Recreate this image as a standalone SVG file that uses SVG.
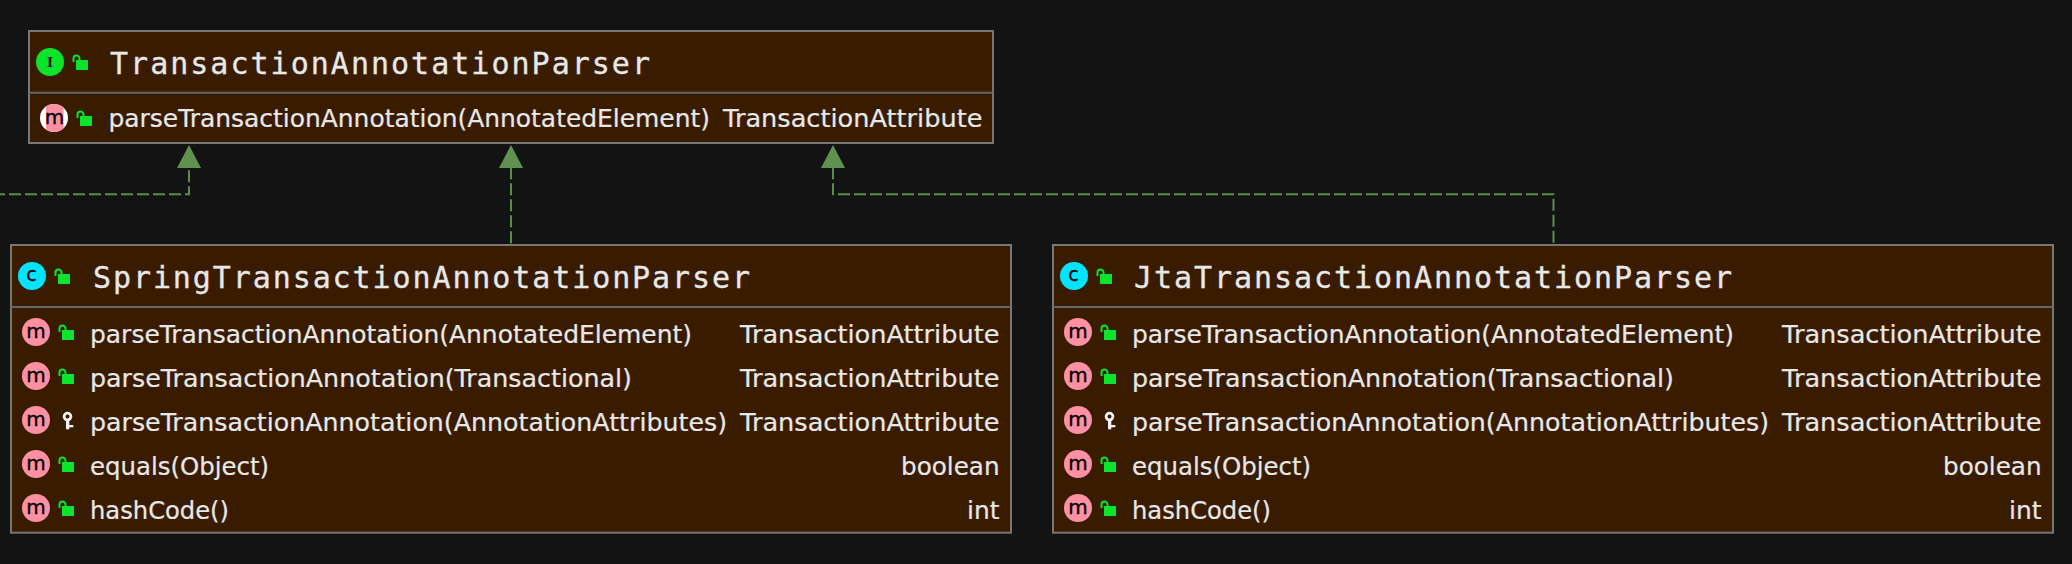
<svg xmlns="http://www.w3.org/2000/svg" width="2072" height="564" viewBox="0 0 2072 564">
<style>
.box{fill:#391c00;stroke:#777;stroke-width:2}
.div{stroke:#666;stroke-width:2;fill:none}
.title{font-family:"DejaVu Sans Mono",monospace;font-size:30px;fill:#e8e8e8;stroke:#e8e8e8;stroke-width:.3}
.mem{font-family:"DejaVu Sans","Liberation Sans",sans-serif;font-size:24px;fill:#e8e8e8;stroke:#e8e8e8;stroke-width:.2}
.link{fill:none;stroke:#5a8f4a;stroke-width:2;stroke-dasharray:12 4}
.head{fill:#5f9150}
.glyph{font-family:"DejaVu Sans","Liberation Sans",sans-serif;font-size:19px;fill:#000;stroke:#000;stroke-width:.3;text-anchor:middle}
</style>
<defs>
<g id="lock"><path d="M23.500 0V-3.500a3 3 0 0 1 6 0V-2" fill="none" stroke="#0be42a" stroke-width="2"/><rect x="26" y="-2" width="12" height="10" fill="#0be42a"/></g>
<g id="key"><circle cx="31.500" cy="-3.400" r="3.400" fill="none" stroke="#f4f4f4" stroke-width="2.800"/><rect x="30" y="0" width="3.300" height="9.300" fill="#f4f4f4"/><rect x="33" y="5" width="4.300" height="2.300" fill="#f4f4f4"/></g>
<g id="mi"><circle r="14" fill="#ff8fa3"/><text class="glyph" y="5.700" textLength="19.500" lengthAdjust="spacingAndGlyphs" x="-9.700" style="text-anchor:start">m</text></g>
<clipPath id="midclip"><rect x="46" y="100" width="17.500" height="36"/></clipPath>
</defs>
<rect width="2072" height="564" fill="#131313"/>
<g id="connectors">
<path class="link" d="M189 170.300V194.300H0"/>
<path class="link" d="M511 243.300V168"/>
<path class="link" stroke-dashoffset="0.700" d="M833 168V194.300H1553.500V245"/>
<path class="head" d="M189 145l12 23h-24z"/>
<path class="head" d="M511 145l12 23h-24z"/>
<path class="head" d="M833 145l12 23h-24z"/>
</g>
<g id="TransactionAnnotationParser">
<rect class="box" x="29" y="31" width="964" height="112"/>
<path class="div" d="M29 92.700H993"/>
<circle cx="50" cy="62" r="14" fill="#0be42a"/>
<text x="50" y="67.300" font-family="Liberation Serif,serif" font-weight="700" font-size="15" text-anchor="middle" fill="#000">I</text>
<use href="#lock" x="50" y="62"/>
<text class="title" x="110" y="73.500" textLength="540" lengthAdjust="spacing">TransactionAnnotationParser</text>
<circle cx="54" cy="118" r="14" fill="#fff"/>
<circle cx="54" cy="118" r="14" fill="#ff8fa3" clip-path="url(#midclip)"/>
<text class="glyph" x="44.800" y="123.700" textLength="19.500" lengthAdjust="spacingAndGlyphs" style="text-anchor:start">m</text>
<use href="#lock" x="54" y="118"/>
<text class="mem" x="108.500" y="126.500" textLength="601.500" lengthAdjust="spacingAndGlyphs">parseTransactionAnnotation(AnnotatedElement)</text>
<text class="mem" x="723" y="126.500" textLength="259.500" lengthAdjust="spacingAndGlyphs">TransactionAttribute</text>
</g>
<g id="SpringTransactionAnnotationParser">
<rect class="box" x="11" y="245" width="1000" height="287.700"/>
<path class="div" d="M11 307H1011"/>
<circle cx="32" cy="276" r="14" fill="#00e5ff"/>
<text class="glyph" x="31.500" y="281.400" font-size="20">c</text>
<use href="#lock" x="32" y="276"/>
<text class="title" x="93" y="287.500" textLength="657" lengthAdjust="spacing">SpringTransactionAnnotationParser</text>
<use href="#mi" x="36" y="332"/><use href="#lock" x="36" y="332"/>
<use href="#mi" x="36" y="376"/><use href="#lock" x="36" y="376"/>
<use href="#mi" x="36" y="420"/><use href="#key" x="36" y="420"/>
<use href="#mi" x="36" y="464"/><use href="#lock" x="36" y="464"/>
<use href="#mi" x="36" y="508"/><use href="#lock" x="36" y="508"/>
<text class="mem" x="90" y="342.500" textLength="602" lengthAdjust="spacingAndGlyphs">parseTransactionAnnotation(AnnotatedElement)</text>
<text class="mem" x="90" y="386.500" textLength="542" lengthAdjust="spacingAndGlyphs">parseTransactionAnnotation(Transactional)</text>
<text class="mem" x="90" y="430.500" textLength="637" lengthAdjust="spacingAndGlyphs">parseTransactionAnnotation(AnnotationAttributes)</text>
<text class="mem" x="90" y="474.500" textLength="179" lengthAdjust="spacingAndGlyphs">equals(Object)</text>
<text class="mem" x="90" y="518.500" textLength="139" lengthAdjust="spacingAndGlyphs">hashCode()</text>
<text class="mem" x="740" y="342.500" textLength="259.500" lengthAdjust="spacingAndGlyphs">TransactionAttribute</text>
<text class="mem" x="740" y="386.500" textLength="259.500" lengthAdjust="spacingAndGlyphs">TransactionAttribute</text>
<text class="mem" x="740" y="430.500" textLength="259.500" lengthAdjust="spacingAndGlyphs">TransactionAttribute</text>
<text class="mem" x="901" y="474.500" textLength="98.500" lengthAdjust="spacingAndGlyphs">boolean</text>
<text class="mem" x="967" y="518.500" textLength="32.500" lengthAdjust="spacingAndGlyphs">int</text>
</g>
<g id="JtaTransactionAnnotationParser">
<rect class="box" x="1053" y="245" width="1000" height="287.700"/>
<path class="div" d="M1053 307H2053"/>
<circle cx="1074" cy="276" r="14" fill="#00e5ff"/>
<text class="glyph" x="1073.500" y="281.400" font-size="20">c</text>
<use href="#lock" x="1074" y="276"/>
<text class="title" x="1134" y="287.500" textLength="598" lengthAdjust="spacing">JtaTransactionAnnotationParser</text>
<use href="#mi" x="1078" y="332"/><use href="#lock" x="1078" y="332"/>
<use href="#mi" x="1078" y="376"/><use href="#lock" x="1078" y="376"/>
<use href="#mi" x="1078" y="420"/><use href="#key" x="1078" y="420"/>
<use href="#mi" x="1078" y="464"/><use href="#lock" x="1078" y="464"/>
<use href="#mi" x="1078" y="508"/><use href="#lock" x="1078" y="508"/>
<text class="mem" x="1132" y="342.500" textLength="602" lengthAdjust="spacingAndGlyphs">parseTransactionAnnotation(AnnotatedElement)</text>
<text class="mem" x="1132" y="386.500" textLength="542" lengthAdjust="spacingAndGlyphs">parseTransactionAnnotation(Transactional)</text>
<text class="mem" x="1132" y="430.500" textLength="637" lengthAdjust="spacingAndGlyphs">parseTransactionAnnotation(AnnotationAttributes)</text>
<text class="mem" x="1132" y="474.500" textLength="179" lengthAdjust="spacingAndGlyphs">equals(Object)</text>
<text class="mem" x="1132" y="518.500" textLength="139" lengthAdjust="spacingAndGlyphs">hashCode()</text>
<text class="mem" x="1782" y="342.500" textLength="259.500" lengthAdjust="spacingAndGlyphs">TransactionAttribute</text>
<text class="mem" x="1782" y="386.500" textLength="259.500" lengthAdjust="spacingAndGlyphs">TransactionAttribute</text>
<text class="mem" x="1782" y="430.500" textLength="259.500" lengthAdjust="spacingAndGlyphs">TransactionAttribute</text>
<text class="mem" x="1943" y="474.500" textLength="98.500" lengthAdjust="spacingAndGlyphs">boolean</text>
<text class="mem" x="2009" y="518.500" textLength="32.500" lengthAdjust="spacingAndGlyphs">int</text>
</g>
</svg>
